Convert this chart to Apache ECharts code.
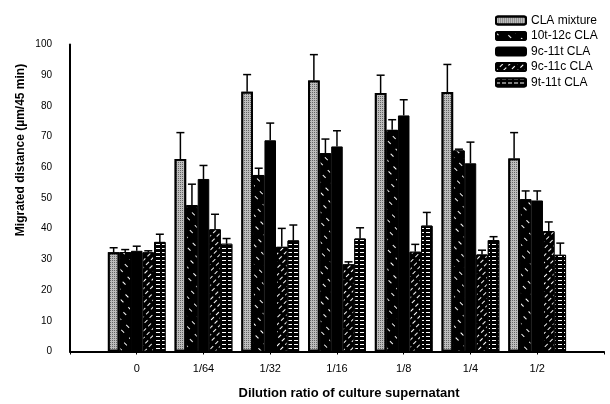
<!DOCTYPE html>
<html><head><meta charset="utf-8">
<script src="https://cdn.jsdelivr.net/npm/echarts@6/dist/echarts.min.js"></script>
<style>html,body{margin:0;padding:0;background:#fff}#c{width:610px;height:404px}</style>
</head><body><div id="c"></div>
<script>
const categories = ['0', '1/64', '1/32', '1/16', '1/8', '1/4', '1/2'];
const seriesNames = ['CLA mixture', '10t-12c CLA', '9c-11t CLA', '9c-11c CLA', '9t-11t CLA'];
const claMixture = [32.3, 62.7, 84.6, 88.3, 84.2, 84.5, 62.9];
const claMixtureErr = [1.5, 8.6, 5.6, 8.4, 5.8, 9.0, 8.4];
const cla10t12c = [32.4, 47.7, 57.5, 64.6, 72.2, 65.5, 49.6];
const cla10t12cErr = [0.8, 6.8, 2.2, 4.6, 3.3, 0.4, 2.7];
const cla9c11t = [32.8, 56.2, 68.8, 66.8, 76.9, 61.3, 49.2];
const cla9c11tErr = [1.5, 4.4, 5.6, 5.1, 5.1, 6.9, 3.1];
const cla9c11c = [32.3, 39.8, 34.1, 28.4, 32.5, 31.6, 39.2];
const cla9c11cErr = [0.5, 4.9, 6.0, 0.8, 2.4, 1.4, 3.0];
const cla9t11t = [35.7, 35.1, 36.2, 36.8, 41.0, 36.3, 31.5];
const cla9t11tErr = [2.5, 1.7, 5.0, 3.5, 4.3, 1.1, 3.8];
const yTicks = [0, 10, 20, 30, 40, 50, 60, 70, 80, 90, 100];

const values = [claMixture, cla10t12c, cla9c11t, cla9c11c, cla9t11t];
const errs = [claMixtureErr, cla10t12cErr, cla9c11tErr, cla9c11cErr, cla9t11tErr];
const FONT = '"Liberation Sans", Arial, sans-serif';
const axisCats = [' '].concat(categories).concat(['  ']);
const CAT_GAP = 0.135;

const styles = [
  {color: '#bdbdbd', borderColor: '#000', borderWidth: 1.8,
   decal: {symbol: 'rect', color: 'rgba(40,40,40,0.6)', dashArrayX: [1, 1], dashArrayY: [1, 1], symbolSize: 1}},
  {color: '#000', borderColor: '#000', borderWidth: 1,
   decal: {symbol: 'rect', color: '#fff', dashArrayX: [[4, 7]], dashArrayY: [1, 6], rotation: Math.PI / 4, symbolSize: 1}},
  {color: '#000', borderColor: '#000', borderWidth: 1},
  {color: '#000', borderColor: '#000', borderWidth: 1,
   decal: {symbol: 'rect', color: '#fff', dashArrayX: [[4, 3]], dashArrayY: [1, 4], rotation: -Math.PI / 4, symbolSize: 1}},
  {color: '#000', borderColor: '#000', borderWidth: 1,
   decal: {symbol: 'rect', color: '#fff', dashArrayX: [[4, 2]], dashArrayY: [1, 2.5], symbolSize: 1}}
];

const series = [];
seriesNames.forEach((name, s) => {
  series.push({
    name: name, type: 'bar', barGap: 0, barCategoryGap: (CAT_GAP * 100) + '%',
    itemStyle: styles[s],
    data: categories.map((c, i) => [c, values[s][i]])
  });
});
seriesNames.forEach((name, s) => {
  series.push({
    type: 'custom', name: name + ' err', z: 5, silent: true,
    data: categories.map((c, i) => [c, values[s][i], values[s][i] + errs[s][i]]),
    renderItem: function (params, api) {
      const base = api.coord([api.value(0), api.value(1)]);
      const top = api.coord([api.value(0), api.value(2)]);
      const band = api.size([1, 0])[0];
      const bw = band * (1 - CAT_GAP) / 5;
      const x = base[0] - 2.5 * bw + (s + 0.5) * bw;
      const st = {stroke: '#000', lineWidth: 1.5};
      return {type: 'group', children: [
        {type: 'line', shape: {x1: x, y1: base[1], x2: x, y2: top[1]}, style: st},
        {type: 'line', shape: {x1: x - 4, y1: top[1], x2: x + 4, y2: top[1]}, style: st}
      ]};
    }
  });
});

const chart = echarts.init(document.getElementById('c'), null, {renderer: 'canvas'});
chart.setOption({
  animation: false,
  backgroundColor: '#fff',
  textStyle: {fontFamily: FONT},
  grid: {left: 70, top: 44.5, width: 536, height: 307},
  legend: {
    data: seriesNames, orient: 'vertical', left: 490, top: 9.5,
    itemWidth: 30, itemHeight: 8, itemGap: 3.5,
    textStyle: {fontFamily: FONT, fontSize: 12, lineHeight: 12, color: '#000'},
    selectedMode: false
  },
  xAxis: {
    type: 'category', data: axisCats, boundaryGap: false,
    axisLine: {lineStyle: {color: '#000', width: 2}},
    axisTick: {show: true, length: 3, lineStyle: {color: '#000', width: 1}},
    axisLabel: {color: '#000', fontSize: 11, margin: 12, fontFamily: FONT},
    splitLine: {show: false}
  },
  yAxis: {
    type: 'value', min: yTicks[0], max: yTicks[yTicks.length - 1], interval: 10,
    axisLine: {show: true, lineStyle: {color: '#000', width: 2}},
    axisTick: {show: false},
    axisLabel: {color: '#000', fontSize: 10, margin: 18, fontFamily: FONT},
    splitLine: {show: false}
  },
  graphic: [
    {type: 'text', x: 21, y: 150, rotation: Math.PI / 2,
     style: {text: 'Migrated distance (\u00b5m/45 min)', font: 'bold 12px ' + FONT, fill: '#000', align: 'center', verticalAlign: 'middle'}},
    {type: 'text', x: 349, y: 393,
     style: {text: 'Dilution ratio of culture supernatant', font: 'bold 13px ' + FONT, fill: '#000', align: 'center', verticalAlign: 'middle'}}
  ],
  series: series
});
</script></body></html>
